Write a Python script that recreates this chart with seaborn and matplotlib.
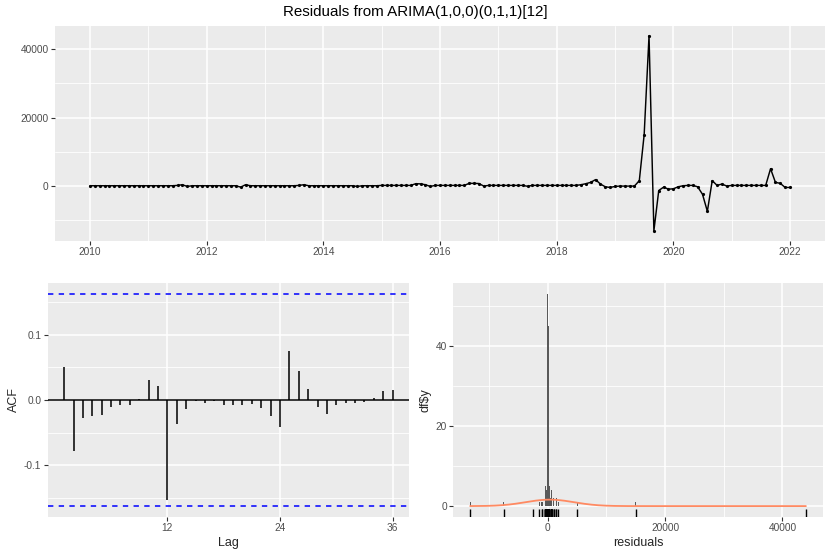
import numpy as np
import pandas as pd
import matplotlib
matplotlib.use("Agg")
import matplotlib.pyplot as plt
import seaborn as sns
from matplotlib.ticker import FixedLocator

# residuals, monthly from Jan 2010 to Jan 2022
res_2010 = [0, 0, 0, 0, 0, 0, 0, 0, 0, 0, 0, 0]
res_2011 = [0, 0, 0, 0, 0, 0, 100, 300, -200, 0, 0, 0]
res_2012 = [0, 0, 0, 0, 0, 0, 0, -400, 300, 0, 0, 0]
res_2013 = [0, 0, 0, 0, 0, 0, 0, 100, 300, 0, 0, 0]
res_2014 = [0, 0, 0, 0, 0, 0, 0, -200, 0, 0, 0, 0]
res_2015 = [100, 100, 100, 100, 100, 100, 100, 600, 550, 300, -200, 100]
res_2016 = [100, 100, 100, 100, 100, 100, 700, 700, 650, -100, 100, 100]
res_2017 = [100, 100, 100, 100, 100, 100, -150, 100, 100, 100, 100, 100]
res_2018 = [100, 100, 100, 100, 100, 300, 600, 1000, 1800, 500, -300, -500]
res_2019 = [-200, -100, -100, -100, -100, 1500, 15000, 44000, -13200, -1400, -400, -1000]
res_2020 = [-900, -300, 0, 100, 100, -300, -2500, -7500, 1500, 100, 500, -100]
res_2021 = [100, 100, 100, 100, 100, 100, 100, 100, 5000, 1000, 700, -500]
res_2022 = [-500]

# autocorrelations of the residuals, lags 1..36
acf_lags = list(range(1, 37))
acf_vals = [0.050, -0.078, -0.028, -0.025, -0.023, -0.011, -0.008, -0.008, 0.002, 0.030,
            0.021, -0.154, -0.037, -0.014, -0.001, -0.005, -0.002, -0.007, -0.008, -0.008,
            -0.006, -0.013, -0.024, -0.042, 0.075, 0.044, 0.017, -0.010, -0.022, -0.008,
            -0.004, -0.005, -0.003, 0.003, 0.014, 0.016]

year_ticks = [2010, 2012, 2014, 2016, 2018, 2020, 2022]

resid = np.array(res_2010 + res_2011 + res_2012 + res_2013 + res_2014 + res_2015 + res_2016
                 + res_2017 + res_2018 + res_2019 + res_2020 + res_2021 + res_2022, dtype=float)
n = len(resid)
df = pd.DataFrame({"time": 2010 + np.arange(n) / 12.0, "residuals": resid})

sns.set_theme(style="darkgrid")
plt.rcParams.update({
    "font.family": ["Liberation Sans", "DejaVu Sans"],
    "axes.facecolor": "#EBEBEB",
    "grid.color": "white",
    "axes.unicode_minus": False,
    "xtick.color": "#333333",
    "ytick.color": "#333333",
    "xtick.labelcolor": "#4D4D4D",
    "ytick.labelcolor": "#4D4D4D",
    "xtick.major.size": 3.2,
    "ytick.major.size": 3.2,
    "xtick.major.width": 0.8,
    "ytick.major.width": 0.8,
    "xtick.major.pad": 1.5,
    "ytick.major.pad": 1.5,
    "xtick.labelsize": 7.3,
    "ytick.labelsize": 7.3,
    "axes.labelsize": 9,
})


def gg_grid(ax, xminor=None, yminor=None):
    for side in ax.spines.values():
        side.set_visible(False)
    ax.tick_params(bottom=True, left=True)
    ax.grid(True, which="major", color="white", lw=1.15)
    if xminor is not None:
        ax.xaxis.set_minor_locator(FixedLocator(xminor))
    if yminor is not None:
        ax.yaxis.set_minor_locator(FixedLocator(yminor))
    ax.grid(True, which="minor", color="white", lw=0.6)
    ax.tick_params(which="minor", length=0)
    ax.set_axisbelow(True)


def expand(lo, hi, f=0.05):
    d = (hi - lo) * f
    return lo - d, hi + d


fig = plt.figure(figsize=(8.3, 5.54), dpi=100)

# --- residual time series ---
ax1 = fig.add_axes([55 / 830, 1 - 240.5 / 554, 770 / 830, 214.5 / 554])
sns.lineplot(data=df, x="time", y="residuals", ax=ax1, color="black", lw=1.05,
             marker="o", markersize=2.3, markeredgewidth=0)
ax1.set_xlim(*expand(2010, df["time"].max()))
ax1.set_ylim(*expand(resid.min(), resid.max()))
ax1.set_xticks(year_ticks)
ax1.set_xticklabels([str(y) for y in year_ticks])
ax1.set_yticks([0, 20000, 40000])
ax1.set_yticklabels(["0", "20000", "40000"])
gg_grid(ax1, xminor=[2011, 2013, 2015, 2017, 2019, 2021], yminor=[-10000, 10000, 30000])
ax1.set_xlabel("")
ax1.set_ylabel("")

# --- ACF ---
ax2 = fig.add_axes([47.7 / 830, 1 - 516.7 / 554, 361.3 / 830, 233.4 / 554])
ci = 1.96 / np.sqrt(n)
ax2.vlines(acf_lags, 0, acf_vals, color="black", lw=1.1)
ax2.axhline(0, color="black", lw=1.1)
ax2.axhline(ci, color="blue", lw=1.1, ls=(0, (3.5, 3.5)))
ax2.axhline(-ci, color="blue", lw=1.1, ls=(0, (3.5, 3.5)))
ax2.set_xlim(*expand(1, 36))
ax2.set_ylim(*expand(-ci, ci))
ax2.set_xticks([12, 24, 36])
ax2.set_yticks([-0.1, 0.0, 0.1])
ax2.set_yticklabels(["-0.1", "0.0", "0.1"])
gg_grid(ax2, yminor=[-0.15, -0.05, 0.05, 0.15])
ax2.set_xlabel("Lag", labelpad=3)
ax2.set_ylabel("ACF", labelpad=3)

# --- histogram with normal curve and rug ---
ax3 = fig.add_axes([453.3 / 830, 1 - 516.7 / 554, 370 / 830, 233.4 / 554])
bw = (resid.max() - resid.min()) / 500
k0 = np.floor(resid.min() / bw - 0.5)
k1 = np.ceil(resid.max() / bw - 0.5)
edges = bw * (np.arange(k0, k1 + 1) + 0.5)
counts, _ = np.histogram(resid, bins=edges)
sns.histplot(data=df, x="residuals", bins=edges, ax=ax3, color="#595959",
             alpha=1, linewidth=0, edgecolor="none")

m = resid.mean()
s = resid.std(ddof=1)
xg = np.linspace(min(resid.min(), m - 3 * s), max(resid.max(), m + 3 * s), 512)
yg = np.exp(-0.5 * ((xg - m) / s) ** 2) / (s * np.sqrt(2 * np.pi)) * n * bw
sns.lineplot(x=xg, y=yg, ax=ax3, color="#ff8a62", lw=1.3)
sns.rugplot(data=df, x="residuals", ax=ax3, height=0.035, color="black", lw=1.1)

ax3.set_xlim(*expand(edges[0], edges[-1]))
ax3.set_ylim(*expand(0, counts.max()))
ax3.set_xticks([0, 20000, 40000])
ax3.set_xticklabels(["0", "20000", "40000"])
ax3.set_yticks([0, 20, 40])
gg_grid(ax3, xminor=[-10000, 10000, 30000], yminor=[10, 30, 50])
ax3.set_xlabel("residuals", labelpad=3)
ax3.set_ylabel("df$y", labelpad=3)

fig.text(0.5, 1 - 12 / 554, "Residuals from ARIMA(1,0,0)(0,1,1)[12]",
         ha="center", va="center", fontsize=10.9, color="black")

fig.savefig("out.png", dpi=100)
